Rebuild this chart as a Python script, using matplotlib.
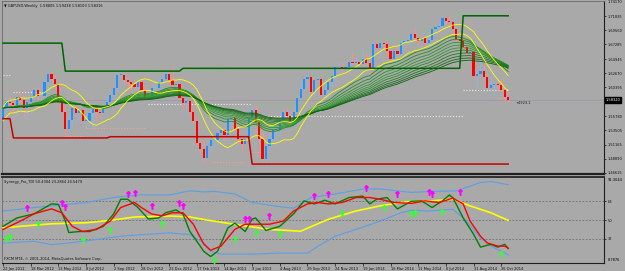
"""GBPUSD weekly chart with Synergy Pro TDI sub-window (MT4 screenshot look)."""

import numpy as np
import pandas as pd
import matplotlib
matplotlib.use("Agg")
import matplotlib.pyplot as plt
import matplotlib.transforms as mtransforms

BG = "#a9a9a9"

# ---- weekly GBPUSD bars, 22 Jan 2012 .. 9 Nov 2014 (147 bars) ----
first_open = 1.5520
high = [
    1.5720, 1.5880, 1.5900, 1.5850, 1.5890, 1.5990, 1.5850, 1.5830, 1.5930, 1.6030,
    1.6060, 1.5990, 1.6130, 1.6270, 1.6300, 1.6230, 1.6110, 1.5840, 1.5720, 1.5600,
    1.5730, 1.5780, 1.5690, 1.5690, 1.5610, 1.5730, 1.5730, 1.5710, 1.5700, 1.5730,
    1.5910, 1.5930, 1.6060, 1.6260, 1.6310, 1.6260, 1.6200, 1.6130, 1.6180, 1.6140,
    1.6170, 1.6050, 1.5950, 1.6050, 1.6070, 1.6150, 1.6200, 1.6310, 1.6240, 1.6380,
    1.6160, 1.6130, 1.5900, 1.5860, 1.5830, 1.5720, 1.5540, 1.5190, 1.5160, 1.5130,
    1.5230, 1.5250, 1.5320, 1.5410, 1.5410, 1.5540, 1.5610, 1.5600, 1.5430, 1.5210,
    1.5260, 1.5600, 1.5720, 1.5750, 1.5490, 1.5330, 1.5130, 1.5320, 1.5440, 1.5440,
    1.5550, 1.5690, 1.5720, 1.5620, 1.5700, 1.5880, 1.6160, 1.6200, 1.6260, 1.6200,
    1.6170, 1.6260, 1.6180, 1.6080, 1.6130, 1.6240, 1.6380, 1.6440, 1.6440, 1.6390,
    1.6450, 1.6600,
    1.6520, 1.6460, 1.6670, 1.6600, 1.6460, 1.6790, 1.6820, 1.6790, 1.6800, 1.6750,
    1.6660, 1.6660, 1.6700, 1.6800, 1.6840, 1.6840, 1.6900, 1.6990, 1.6880, 1.6930,
    1.6870, 1.6850, 1.6990, 1.7060, 1.7050, 1.7180, 1.7170, 1.7190, 1.7120, 1.7000,
    1.6870, 1.6810, 1.6740, 1.6640, 1.6640, 1.6330, 1.6520, 1.6420, 1.6270, 1.6230,
    1.6140, 1.6180, 1.6180, 1.6040, 1.5944,
]
low = [
    1.5500, 1.5640, 1.5740, 1.5630, 1.5700, 1.5730, 1.5600, 1.5600, 1.5780, 1.5830,
    1.5830, 1.5800, 1.5870, 1.6030, 1.6140, 1.6070, 1.5780, 1.5630, 1.5270, 1.5340,
    1.5390, 1.5580, 1.5480, 1.5480, 1.5390, 1.5480, 1.5390, 1.5490, 1.5540, 1.5600,
    1.5700, 1.5770, 1.5850, 1.5960, 1.6190, 1.6100, 1.6050, 1.5980, 1.6010, 1.5960,
    1.5970, 1.5830, 1.5820, 1.5880, 1.5960, 1.6000, 1.6060, 1.6160, 1.6100, 1.6050,
    1.6000, 1.5860, 1.5680, 1.5630, 1.5600, 1.5460, 1.5130, 1.5000, 1.4830, 1.4880,
    1.5010, 1.5070, 1.5100, 1.5240, 1.5190, 1.5220, 1.5450, 1.5350, 1.5160, 1.5010,
    1.5080, 1.5180, 1.5530, 1.5440, 1.5190, 1.4860, 1.4810, 1.5030, 1.5210, 1.5100,
    1.5270, 1.5490, 1.5540, 1.5430, 1.5420, 1.5640, 1.5860, 1.5990, 1.6050, 1.5910,
    1.5900, 1.6110, 1.5900, 1.5890, 1.5880, 1.6060, 1.6140, 1.6300, 1.6270, 1.6270,
    1.6310, 1.6410,
    1.6300, 1.6330, 1.6400, 1.6400, 1.6250, 1.6330, 1.6590, 1.6530, 1.6660, 1.6580,
    1.6480, 1.6460, 1.6550, 1.6550, 1.6700, 1.6740, 1.6770, 1.6820, 1.6730, 1.6790,
    1.6690, 1.6690, 1.6780, 1.6920, 1.6950, 1.7010, 1.7060, 1.7060, 1.6960, 1.6790,
    1.6750, 1.6660, 1.6570, 1.6560, 1.6160, 1.6050, 1.6240, 1.6180, 1.6030, 1.5990,
    1.5880, 1.6000, 1.5960, 1.5790, 1.5811,
]
close = [
    1.5710, 1.5800, 1.5780, 1.5760, 1.5880, 1.5830, 1.5710, 1.5800, 1.5880, 1.6000,
    1.5900, 1.5900, 1.6120, 1.6260, 1.6170, 1.6100, 1.5800, 1.5650, 1.5370, 1.5520,
    1.5710, 1.5620, 1.5670, 1.5500, 1.5500, 1.5620, 1.5690, 1.5640, 1.5630, 1.5720,
    1.5810, 1.5920, 1.6030, 1.6240, 1.6240, 1.6150, 1.6130, 1.6090, 1.6040, 1.6130,
    1.5990, 1.5890, 1.5900, 1.6030, 1.6030, 1.6130, 1.6180, 1.6250, 1.6150, 1.6070,
    1.6090, 1.5870, 1.5780, 1.5820, 1.5650, 1.5500, 1.5150, 1.5040, 1.4900, 1.5090,
    1.5190, 1.5190, 1.5300, 1.5350, 1.5270, 1.5530, 1.5550, 1.5370, 1.5200, 1.5130,
    1.5200, 1.5540, 1.5680, 1.5480, 1.5200, 1.4880, 1.5100, 1.5200, 1.5360, 1.5360,
    1.5510, 1.5640, 1.5570, 1.5490, 1.5650, 1.5870, 1.6020, 1.6180, 1.6200, 1.5960,
    1.6150, 1.6170, 1.5920, 1.5990, 1.6120, 1.6220, 1.6360, 1.6360, 1.6340, 1.6360,
    1.6440, 1.6430,
    1.6440, 1.6420, 1.6490, 1.6430, 1.6330, 1.6730, 1.6670, 1.6750, 1.6730, 1.6630,
    1.6500, 1.6620, 1.6580, 1.6750, 1.6780, 1.6800, 1.6890, 1.6840, 1.6790, 1.6830,
    1.6750, 1.6800, 1.6970, 1.7010, 1.7020, 1.7150, 1.7110, 1.7090, 1.6980, 1.6820,
    1.6790, 1.6690, 1.6590, 1.6600, 1.6220, 1.6250, 1.6300, 1.6210, 1.6030, 1.6080,
    1.6090, 1.6070, 1.5990, 1.5880, 1.5832,
]

# channel step levels: (first bar, last bar, price)
upper_channel = [(0, 17, 1.6750), (18, 51, 1.6300), (52, 132, 1.6345), (133, 146, 1.7190)]
lower_channel = [(0, 2, 1.5535), (3, 30, 1.5225), (31, 71, 1.5245), (72, 146, 1.4805)]
green_levels = [(0, 2, 1.6160), (14, 18, 1.6300), (40, 65, 1.6310), (73, 86, 1.5750),
                (88, 96, 1.6255), (101, 105, 1.6600), (105, 107, 1.6670),
                (109, 116, 1.6820), (120, 125, 1.7000), (130, 134, 1.7200)]
white_levels = [(0, 2, 1.6240), (3, 12, 1.5970), (42, 72, 1.5770),
                (74, 133, 1.5570), (133, 146, 1.6000)]
salmon_levels = [(1, 2, 1.5220), (18, 23, 1.5260), (24, 41, 1.5385),
                 (60, 70, 1.4830), (71, 75, 1.5000), (143, 146, 1.5870)]

price_ticks = [1.71835, 1.69560, 1.67285, 1.64945, 1.62670, 1.60395,
               1.55780, 1.53505, 1.51165, 1.48890, 1.46615]

# ---- Synergy Pro TDI lines ----
tdi_green_bar = [0, 4, 9, 14, 16, 18, 19, 22, 25, 29, 32, 34, 36, 39, 42, 45, 47, 50, 52, 54,
                 57, 58, 60, 62, 65, 67, 70, 72, 73, 76, 80, 84, 87, 90, 93, 96, 100, 104, 106, 108,
                 111, 114, 118, 121, 124, 127, 129, 130, 133, 136, 138, 141, 143, 145, 146]
tdi_green = [44, 52, 56, 65.5, 65, 49, 38, 39, 39, 44, 56, 70, 70, 62, 51, 52, 57, 59.7, 55.8, 39,
             25, 20, 15, 20, 42.5, 47, 39, 51, 52, 40, 44, 56, 68.4, 65.5, 69, 65.5, 71.6, 73, 65.5, 70,
             71.6, 60.7, 68, 68.4, 62, 68.4, 74, 71.6, 52, 36.4, 24, 26.7, 24, 26.7, 22.8]
tdi_red_bar = [0, 5, 9, 14, 17, 20, 23, 27, 31, 34, 38, 40, 43, 46, 49, 52, 55, 58, 60, 63,
               67, 70, 73, 77, 81, 84, 88, 91, 94, 98, 102, 106, 109, 113, 118, 122, 126, 130, 133, 135,
               138, 140, 143, 145, 146]
tdi_red = [41, 49, 56, 60.7, 57, 44, 39, 41, 49, 62, 66.8, 62, 55.8, 54, 57, 57, 46, 27, 21, 25,
           41, 46, 46, 46, 49, 58.7, 65.5, 66.8, 65.5, 66.8, 71.6, 71.6, 70, 66.8, 66, 68.4, 66.8, 71, 65.5, 49,
           34.5, 28, 25, 25, 23]
tdi_yellow_bar = [0, 5, 14, 24, 31, 38, 48, 54, 59, 67, 77, 86, 94, 102, 109, 115, 118, 124, 130, 135, 141, 146]
tdi_yellow = [42.6, 44, 46.4, 47.4, 49.7, 52.9, 53.9, 52.9, 50, 45.8, 41, 39.3, 50.7, 58.7, 63.6,
              66.8, 67.8, 68.4, 70, 63.6, 57, 49.7]
tdi_upper_bar = [0, 9, 24, 32, 38, 48, 54, 58, 61, 67, 72, 82, 84, 89, 96, 104, 109, 118, 124, 131,
                 138, 141, 146]
tdi_upper = [58.7, 62, 66.8, 71.6, 74, 74, 78, 77, 77.5, 75, 66.8, 62, 61.4, 71.6, 75, 79.8, 79.8,
             76.5, 77.5, 78, 86, 87, 84]
tdi_lower_bar = [0, 9, 14, 19, 27, 34, 40, 48, 54, 58, 60, 63, 72, 80, 88, 91, 96, 102, 109, 115,
                 118, 123, 130, 134, 138, 141, 146]
tdi_lower = [28, 29.6, 26.4, 28, 31.3, 34.5, 36, 37.7, 36, 28, 20, 17.3, 17.3, 18.3, 18.3, 24.8,
             34.5, 41, 49, 57, 59.4, 58.7, 60.4, 49, 32.8, 25, 16.7]

sell_bar = [7, 17, 18, 36, 38, 43, 51, 52, 70, 71, 77, 90, 94, 105, 114, 123, 124, 132]
sell_val = [61.6, 66.5, 62.6, 75.2, 76.2, 63.6, 66.5, 63.6, 51, 51, 53.9, 73.3, 75.2, 81, 75.2,
            77.2, 75.2, 77.2]
buy_bar = [1, 2, 10, 23, 31, 46, 61, 67, 73, 80, 98, 110, 118, 119, 127, 144]
buy_val = [31.6, 33.5, 46, 30.6, 40.3, 46, 11.2, 31.6, 37.4, 36.4, 56.8, 61.6, 55.8, 56.8, 57.8, 17]

date_labels = ["22 Jan 2012", "18 Mar 2012", "13 May 2012", "8 Jul 2012", "2 Sep 2012",
               "28 Oct 2012", "23 Dec 2012", "17 Feb 2013", "14 Apr 2013", "9 Jun 2013",
               "4 Aug 2013", "29 Sep 2013", "24 Nov 2013", "19 Jan 2014", "16 Mar 2014",
               "11 May 2014", "6 Jul 2014", "31 Aug 2014", "26 Oct 2014"]


def step_series(segments, n):
    arr = np.full(n, np.nan)
    for a, b, v in segments:
        arr[a:b + 1] = v
    return arr


def dotted(ax, segments, color):
    for a, b, v in segments:
        ax.plot([a, b], [v, v], color=color, lw=0.8, ls=(0, (1, 1.6)), zorder=2)


plt.rcParams["font.family"] = ["DejaVu Sans"]
FS = 2.6

n = len(close)
bars = np.arange(n)
c = np.array(close)
h = np.array(high)
lo = np.array(low)
o = np.concatenate([[first_open], c[:-1]])
up = c >= o

fig = plt.figure(figsize=(6.25, 2.71), dpi=100, facecolor=BG)
ax = fig.add_axes([2 / 625, 1 - 174 / 271, 602 / 625, 173 / 271], facecolor=BG)
ax2 = fig.add_axes([2 / 625, 1 - 263 / 271, 602 / 625, 86 / 271], facecolor=BG)
XL = (-0.3, 173.7)

# ---------------- price window ----------------
ax.vlines(bars[up], lo[up], h[up], color="#8fb4dc", lw=0.7, zorder=3)
ax.vlines(bars[~up], lo[~up], h[~up], color="#ff8c8c", lw=0.7, zorder=3)
body_lo = np.minimum(o, c)
body_h = np.maximum(np.abs(c - o), 0.0006)
ax.bar(bars[up], body_h[up], bottom=body_lo[up], width=0.62, color="#1e90ff", zorder=3)
ax.bar(bars[~up], body_h[~up], bottom=body_lo[~up], width=0.62, color="#ff0000", zorder=3)

s = pd.Series(c)
periods = [20, 24, 28, 32, 36, 40, 45, 50, 55, 60]
greens = ["#1f8f1f", "#248f24", "#2a952a", "#2e9a2e", "#339933", "#2a8a2a",
          "#237f23", "#1c751c", "#156b15", "#0e620e"]
for p, col in zip(periods, greens):
    ax.plot(bars, s.ewm(span=p, adjust=False).mean(), color=col, lw=0.6, zorder=4)

sh = pd.Series(h).rolling(10, min_periods=1).mean()
sl = pd.Series(lo).rolling(10, min_periods=1).mean()
ax.plot(bars, sh, color="#ffff00", lw=0.6, zorder=4)
ax.plot(bars, sl, color="#ffff00", lw=0.6, zorder=4)

dotted(ax, green_levels, "#6fd36f")
dotted(ax, white_levels, "#ececec")
dotted(ax, salmon_levels, "#ff9c9c")

ax.plot(bars, step_series(upper_channel, n), color="#006400", lw=1.1, zorder=5)
ax.plot(bars, step_series(lower_channel, n), color="#c80000", lw=1.1, zorder=5)

last = c[-1]
ax.axhline(last, color="#9b9bab", lw=0.6, zorder=1)
ax.text(n + 1.2, last - 0.0015, "+4923.1", fontsize=FS, color="#202020", va="top", ha="left")

ax.set_xlim(*XL)
ax.set_ylim(1.4645, 1.7428)
ax.yaxis.tick_right()
ax.set_yticks(price_ticks)
ax.set_yticklabels([f"{v:.5f}" for v in price_ticks])
ax.tick_params(axis="y", labelsize=FS, length=1.5, width=0.5, pad=1.0, colors="#101010")
ax.set_xticks([])
tr = mtransforms.blended_transform_factory(ax.transAxes, ax.transData)
ax.text(1.006, 1.7417, "1.74170", transform=tr, fontsize=FS, va="center", ha="left", color="#101010")
ax.text(1.003, last, f"{last:.5f}", transform=tr, fontsize=FS, va="center", ha="left",
        color="white", bbox=dict(boxstyle="square,pad=0.2", fc="black", ec="black"))
ax.text(0.003, 0.985, "\u25bc GBPUSD,Weekly  1.58805 1.59438 1.58103 1.58316",
        transform=ax.transAxes, fontsize=FS, va="top", ha="left", color="#101010")

# ---------------- TDI window ----------------
for lvl in (68, 50, 32):
    ax2.axhline(lvl, color="#6e6e6e", lw=0.6, ls=(0, (2, 2)), zorder=1)
ax2.plot(tdi_upper_bar, tdi_upper, color="#5aa0e6", lw=0.8, zorder=2)
ax2.plot(tdi_lower_bar, tdi_lower, color="#5aa0e6", lw=0.8, zorder=2)
ax2.plot(tdi_yellow_bar, tdi_yellow, color="#ffff00", lw=1.2, zorder=3)
ax2.plot(tdi_green_bar, tdi_green, color="#008000", lw=1.0, zorder=4)
ax2.plot(tdi_red_bar, tdi_red, color="#ff0000", lw=1.0, zorder=5)
ax2.plot(sell_bar, sell_val, ls="none", marker="$\u2191$", ms=4, color="#ff00ff", zorder=6)
ax2.plot(buy_bar, buy_val, ls="none", marker="$\u2191$", ms=4, color="#33ff33", zorder=6)

ax2.set_xlim(*XL)
ax2.set_ylim(8.7876, 91.3044)
ax2.yaxis.tick_right()
ax2.set_yticks([68, 50, 32])
ax2.set_yticklabels(["68", "50", "32"])
ax2.tick_params(axis="y", labelsize=FS, length=1.5, width=0.5, pad=1.0, colors="#101010")
ax2.set_xticks(np.arange(len(date_labels)) * 8)
ax2.set_xticklabels(date_labels, ha="left")
ax2.tick_params(axis="x", labelsize=FS, length=2, width=0.5, pad=0.8, colors="#101010")
ax2.text(1.006, 0.985, "91.3044", transform=ax2.transAxes, fontsize=FS, va="top", ha="left")
ax2.text(1.006, 0.01, "8.7876", transform=ax2.transAxes, fontsize=FS, va="bottom", ha="left")
ax2.text(0.003, 0.97, "Synergy_Pro_TDI 50.4304 23.2864 24.5479", transform=ax2.transAxes,
         fontsize=FS, va="top", ha="left", color="#101010")
ax2.text(0.003, 0.02, "FXCM MT4, \u00a9 2001-2014, MetaQuotes Software Corp.",
         transform=ax2.transAxes, fontsize=FS, va="bottom", ha="left", color="#101010")

for a in (ax, ax2):
    for side in ("left", "top"):
        a.spines[side].set_color("#6a6a6a")
        a.spines[side].set_linewidth(0.6)
    a.spines["right"].set_color("#202020")
    a.spines["right"].set_linewidth(0.8)
    a.spines["bottom"].set_color("#202020")
    a.spines["bottom"].set_linewidth(0.8)
ax.spines["bottom"].set_linewidth(1.6)
ax2.spines["top"].set_color("#303030")
ax2.spines["top"].set_linewidth(1.4)

fig.savefig("out.png", dpi=100, facecolor=BG)
